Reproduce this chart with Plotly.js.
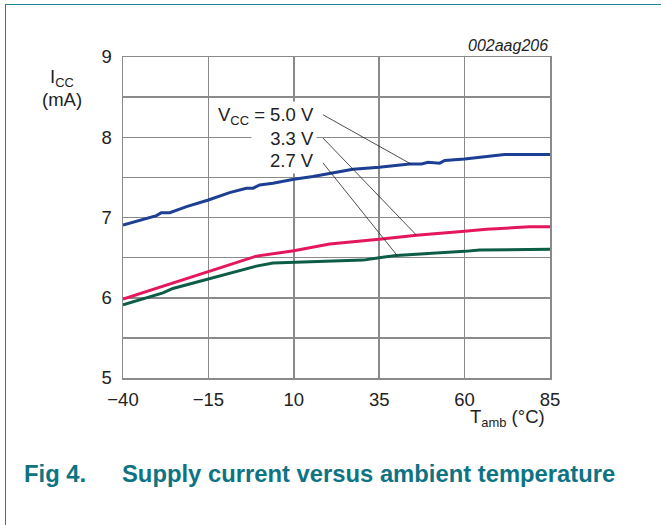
<!DOCTYPE html>
<html>
<head>
<meta charset="utf-8">
<script src="https://cdn.plot.ly/plotly-3.0.1.min.js"></script>
<style>
  html, body { margin: 0; padding: 0; background: #fff; }
  #wrap { position: relative; width: 661px; height: 525px; overflow: hidden; }
  #frame { position: absolute; left: 5px; top: 4px; width: 700px; height: 600px;
           border-left: 1.5px solid #1b8392; border-top: 1.5px solid #1b8392; pointer-events: none; z-index: 5; }
  #chart { position: absolute; left: 0; top: 0; width: 661px; height: 525px; }
</style>
</head>
<body>
<div id="wrap">
  <div id="chart"></div>
  <div id="frame"></div>
</div>
<script>
// Data (temperature °C, supply current mA)
const t50 = [-40, -35.1, -30.2, -28.8, -26.3, -21.4, -15, -8.8, -3.9, -1.9, 0, 3.9, 10, 15.6, 21.5, 27.3, 35, 41, 43.9, 47.4, 49.3, 52.7, 54.2, 60, 69.3, 71.7, 85];
const i50 = [6.906, 6.968, 7.023, 7.06, 7.06, 7.135, 7.218, 7.31, 7.365, 7.365, 7.406, 7.427, 7.477, 7.51, 7.552, 7.602, 7.627, 7.652, 7.668, 7.668, 7.689, 7.677, 7.71, 7.73, 7.768, 7.784, 7.784];

const t33 = [-40, -15, -0.95, 10, 20.5, 35, 45.9, 60, 66.4, 79, 85];
const i33 = [5.983, 6.323, 6.519, 6.585, 6.669, 6.728, 6.78, 6.828, 6.853, 6.885, 6.885];

const t27 = [-40, -28.3, -25.4, -15, -0.95, 3.9, 10, 20.5, 30.3, 35, 40, 60, 64.4, 85];
const i27 = [5.911, 6.061, 6.116, 6.232, 6.394, 6.432, 6.44, 6.457, 6.469, 6.498, 6.528, 6.578, 6.594, 6.603];

const xTicks = [-40, -15, 10, 35, 60, 85];
const xTickText = ['\u221240', '\u221215', '10', '35', '60', '85'];
const yTicks = [5, 6, 7, 8, 9];
const yTickText = ['5', '6', '7', '8', '9'];

const seriesLabels = ['V<sub>CC</sub> = 5.0 V', '3.3 V', '2.7 V'];
const labelY = [8.26, 7.99, 7.715];
// callout: label end and pointed curve location
const calloutTail = [[18.55, 8.28], [18.55, 7.99], [18.55, 7.68]];
const calloutHead = [[44.4, 7.664], [45.9, 6.78], [40.2, 6.53]];

const FONT = 'Liberation Sans, Arial, Helvetica, sans-serif';
const GRID = '#8a8a8a';
const TEAL = '#0e7382';
const FS = 18.5;

const traces = [
  { x: t50, y: i50, mode: 'lines', line: { color: '#1c3f94', width: 3 }, hoverinfo: 'skip' },
  { x: t33, y: i33, mode: 'lines', line: { color: '#e5175b', width: 3 }, hoverinfo: 'skip' },
  { x: t27, y: i27, mode: 'lines', line: { color: '#0d5c48', width: 3 }, hoverinfo: 'skip' }
];

const shapes = [
  { type: 'line', xref: 'x', yref: 'paper', x0: xTicks[3], x1: xTicks[3], y0: 0, y1: 1,
    line: { color: '#1a1a1a', width: 1 }, layer: 'between' }
];
const annotations = [];
for (let k = 0; k < 3; k++) {
  shapes.push({
    type: 'line', xref: 'x', yref: 'y',
    x0: calloutTail[k][0], y0: calloutTail[k][1], x1: calloutHead[k][0], y1: calloutHead[k][1],
    line: { color: '#222', width: 0.8 }, layer: 'above'
  });
  const ann = {
    x: 16.8, y: labelY[k], xref: 'x', yref: 'y', xanchor: 'right', yanchor: 'middle',
    text: seriesLabels[k], showarrow: false,
    bgcolor: '#ffffff', borderpad: 2,
    font: { family: FONT, size: FS, color: '#222' }
  };
  if (k === 1) { ann.width = 60; ann.align = 'right'; }
  annotations.push(ann);
}
annotations.push(
  { xref: 'paper', yref: 'paper', x: -0.1436, y: 0.935, text: 'I<sub>CC</sub>', showarrow: false,
    xanchor: 'center', yanchor: 'middle', font: { family: FONT, size: FS, color: '#222' } },
  { xref: 'paper', yref: 'paper', x: -0.1436, y: 0.867, text: '(mA)', showarrow: false,
    xanchor: 'center', yanchor: 'middle', font: { family: FONT, size: FS, color: '#222' } },
  { xref: 'paper', yref: 'paper', x: 0.992, y: -0.126, text: 'T<sub>amb</sub> (\u00b0C)', showarrow: false,
    xanchor: 'right', yanchor: 'middle', font: { family: FONT, size: FS, color: '#222' } },
  { xref: 'paper', yref: 'paper', x: 1.0, y: 1.035, text: '<i>002aag206</i>', showarrow: false,
    xanchor: 'right', yanchor: 'middle', font: { family: FONT, size: 16, color: '#222' } },
  { xref: 'paper', yref: 'paper', x: -0.237, y: -0.297, text: '<b>Fig 4.</b>', showarrow: false,
    xanchor: 'left', yanchor: 'middle', font: { family: FONT, size: 23.8, color: TEAL } },
  { xref: 'paper', yref: 'paper', x: -0.0077, y: -0.297, text: '<b>Supply current versus ambient temperature</b>', showarrow: false,
    xanchor: 'left', yanchor: 'middle', font: { family: FONT, size: 23.8, color: TEAL } }
);

const layout = {
  width: 661, height: 525,
  margin: { l: 123.3, r: 110.7, t: 57.3, b: 147.3 },
  paper_bgcolor: '#ffffff', plot_bgcolor: '#ffffff',
  showlegend: false,
  xaxis: {
    range: [-40, 85], tickvals: xTicks, ticktext: xTickText,
    showgrid: true, gridcolor: GRID, gridwidth: 1.5,
    showline: true, mirror: true, linecolor: GRID, linewidth: 1.5,
    ticks: 'outside', ticklen: 4, tickcolor: 'rgba(0,0,0,0)',
    zeroline: false, fixedrange: true,
    tickfont: { family: FONT, size: FS, color: '#222' }
  },
  yaxis: {
    range: [5, 9], tickvals: yTicks, ticktext: yTickText,
    showgrid: true, gridcolor: GRID, gridwidth: 1.5,
    minor: { dtick: 0.5, showgrid: true, gridcolor: GRID, gridwidth: 1.5 },
    showline: true, mirror: true, linecolor: GRID, linewidth: 1.5,
    ticks: 'outside', ticklen: 6, tickcolor: 'rgba(0,0,0,0)',
    zeroline: false, fixedrange: true,
    tickfont: { family: FONT, size: FS, color: '#222' }
  },
  shapes: shapes,
  annotations: annotations
};

Plotly.newPlot('chart', traces, layout, { staticPlot: true, displayModeBar: false });
</script>
</body>
</html>
